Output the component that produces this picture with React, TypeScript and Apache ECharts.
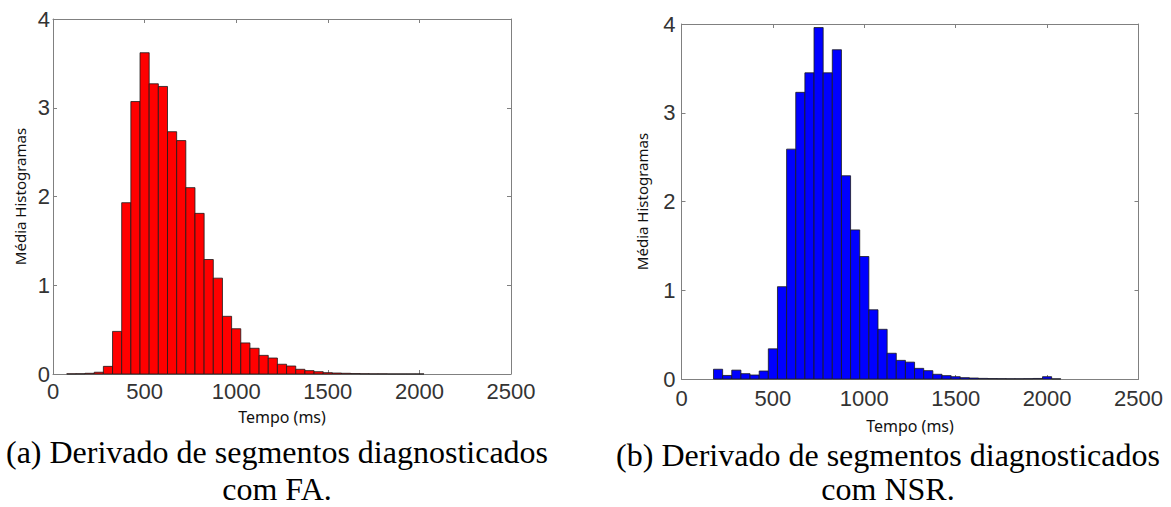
import React, { useEffect, useRef } from "react";
import * as echarts from "echarts";

const BIN_WIDTH = 50;

const faCenters = [100, 150, 200, 250, 300, 350, 400, 450, 500, 550, 600, 650, 700, 750, 800, 850, 900, 950, 1000, 1050, 1100, 1150, 1200, 1250, 1300, 1350, 1400, 1450, 1500, 1550, 1600, 1650, 1700, 1750, 1800, 1850, 1900, 1950, 2000];
const faValues = [0.002, 0.003, 0.008, 0.02, 0.086, 0.48, 1.93, 3.07, 3.62, 3.27, 3.24, 2.73, 2.63, 2.1, 1.81, 1.29, 1.08, 0.65, 0.51, 0.35, 0.29, 0.21, 0.18, 0.11, 0.09, 0.053, 0.038, 0.026, 0.015, 0.011, 0.008, 0.005, 0.003, 0.002, 0.002, 0.001, 0.001, 0.001, 0.001];

const nsrCenters = [200, 250, 300, 350, 400, 450, 500, 550, 600, 650, 700, 750, 800, 850, 900, 950, 1000, 1050, 1100, 1150, 1200, 1250, 1300, 1350, 1400, 1450, 1500, 1550, 1600, 1650, 1700, 1750, 1800, 1850, 1900, 1950, 2000, 2050];
const nsrValues = [0.11, 0.04, 0.1, 0.06, 0.045, 0.09, 0.34, 1.04, 2.59, 3.23, 3.45, 3.96, 3.45, 3.71, 2.29, 1.68, 1.38, 0.78, 0.56, 0.29, 0.21, 0.19, 0.12, 0.094, 0.053, 0.038, 0.026, 0.015, 0.011, 0.007, 0.005, 0.004, 0.003, 0.003, 0.004, 0.006, 0.026, 0.002];

const xTicks = ["0", "500", "1000", "1500", "2000", "2500"];
const yTicks = ["0", "1", "2", "3", "4"];
const xName = "Tempo (ms)";
const yName = "Média Histogramas";
const captionA = ["(a) Derivado de segmentos diagnosticados", "com FA."];
const captionB = ["(b) Derivado de segmentos diagnosticados", "com NSR."];

const FRAME = "#808080";
const LABEL_FONT = "Liberation Sans";
const NAME_FONT = "Noto Sans";

function histItem(fill: string) {
  return (params: any, api: any) => {
    const c = api.value(0);
    const v = api.value(1);
    const p1 = api.coord([c - BIN_WIDTH / 2, v]);
    const p2 = api.coord([c + BIN_WIDTH / 2, 0]);
    return {
      type: "rect",
      shape: { x: p1[0], y: p1[1], width: p2[0] - p1[0], height: p2[1] - p1[1] },
      style: { fill, stroke: "#1a1a1a", lineWidth: 0.8 },
    };
  };
}

function App() {
  const ref = useRef<HTMLDivElement>(null);
  useEffect(() => {
    if (!ref.current) return;
    const chart = echarts.init(ref.current, null, { renderer: "svg" });
    const xMax = Number(xTicks[xTicks.length - 1]);
    const yMax = Number(yTicks[yTicks.length - 1]);

    const bottomX = (gridIndex: number, margin: number, nameGap: number) => ({
      type: "value",
      gridIndex,
      position: "bottom",
      min: 0,
      max: xMax,
      interval: 500,
      name: xName,
      nameLocation: "middle",
      nameGap,
      nameTextStyle: { fontFamily: NAME_FONT, fontSize: 16, color: "#111" },
      axisLine: { show: true, onZero: false, lineStyle: { color: FRAME, width: 1 } },
      axisTick: { show: true, inside: true, length: 4, lineStyle: { color: FRAME } },
      axisLabel: {
        show: true,
        margin,
        fontFamily: LABEL_FONT,
        fontSize: 22,
        color: "#333",
        formatter: (v: number) => String(v),
      },
      splitLine: { show: false },
    });
    const topX = (gridIndex: number) => ({
      type: "value",
      gridIndex,
      position: "top",
      min: 0,
      max: xMax,
      interval: 500,
      axisLine: { show: true, onZero: false, lineStyle: { color: FRAME, width: 1 } },
      axisTick: { show: true, inside: true, length: 4, lineStyle: { color: FRAME } },
      axisLabel: { show: false },
      splitLine: { show: false },
    });
    const leftY = (gridIndex: number, margin: number, nameGap: number) => ({
      type: "value",
      gridIndex,
      position: "left",
      min: 0,
      max: yMax,
      interval: 1,
      name: yName,
      nameLocation: "middle",
      nameGap,
      nameRotate: 90,
      nameTextStyle: { fontFamily: NAME_FONT, fontSize: 15, color: "#111" },
      axisLine: { show: true, onZero: false, lineStyle: { color: FRAME, width: 1 } },
      axisTick: { show: true, inside: true, length: 4, lineStyle: { color: FRAME } },
      axisLabel: { show: true, margin, fontFamily: LABEL_FONT, fontSize: 22, color: "#333" },
      splitLine: { show: false },
    });
    const rightY = (gridIndex: number) => ({
      type: "value",
      gridIndex,
      position: "right",
      min: 0,
      max: yMax,
      interval: 1,
      axisLine: { show: true, onZero: false, lineStyle: { color: FRAME, width: 1 } },
      axisTick: { show: true, inside: true, length: 4, lineStyle: { color: FRAME } },
      axisLabel: { show: false },
      splitLine: { show: false },
    });

    const captionStyle = {
      fontFamily: "Liberation Serif",
      fontSize: 32,
      fill: "#000",
      align: "center",
      verticalAlign: "middle",
    };

    chart.setOption({
      animation: false,
      backgroundColor: "#fff",
      grid: [
        { left: 53, top: 19, width: 458, height: 355 },
        { left: 681.5, top: 24, width: 457, height: 355 },
      ],
      xAxis: [bottomX(0, 6, 35), topX(0), bottomX(1, 8, 39), topX(1)],
      yAxis: [leftY(0, 3, 26), rightY(0), leftY(1, 6, 32), rightY(1)],
      series: [
        {
          type: "custom",
          xAxisIndex: 0,
          yAxisIndex: 0,
          renderItem: histItem("#ff0000"),
          data: faCenters.map((c, i) => [c, faValues[i]]),
        },
        {
          type: "custom",
          xAxisIndex: 2,
          yAxisIndex: 2,
          renderItem: histItem("#0000ff"),
          data: nsrCenters.map((c, i) => [c, nsrValues[i]]),
        },
      ],
      graphic: [
        { type: "text", x: 277, y: 452, style: { ...captionStyle, text: captionA[0] } },
        { type: "text", x: 277, y: 489, style: { ...captionStyle, text: captionA[1] } },
        { type: "text", x: 888, y: 455, style: { ...captionStyle, text: captionB[0] } },
        { type: "text", x: 888, y: 489, style: { ...captionStyle, text: captionB[1] } },
      ],
    });
    return () => chart.dispose();
  }, []);
  return (
    <div
      ref={ref}
      style={{ position: "absolute", left: 0, top: 0, width: 1171, height: 507, background: "#fff" }}
    />
  );
}

export default App;
